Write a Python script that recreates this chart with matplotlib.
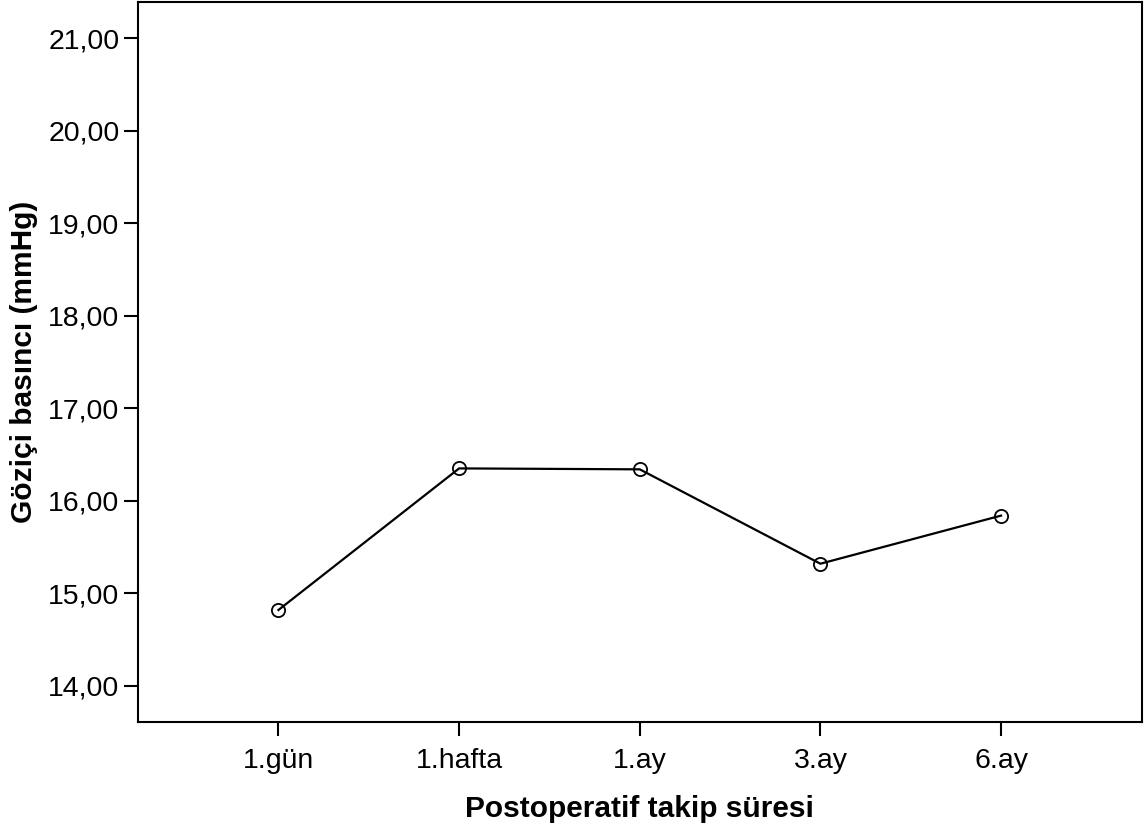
import matplotlib
matplotlib.use('Agg')
import matplotlib.pyplot as plt

plt.rcParams['font.family'] = ['Liberation Sans', 'DejaVu Sans']

# takip zamanlari ve ortalama goz ici basinci
donemler = ['1.gün', '1.hafta', '1.ay', '3.ay', '6.ay']
basinc = [14.82, 16.35, 16.34, 15.32, 15.84]
y_ticks = [14, 15, 16, 17, 18, 19, 20, 21]

fig = plt.figure(figsize=(11.47, 8.36), dpi=100)
ax = fig.add_axes([0.1199, 0.1364, 0.8757, 0.8612])

x = list(range(len(donemler)))
ax.plot(x, basinc, color='black', linewidth=1.6, marker='o', markersize=9.5,
        markerfacecolor='none', markeredgecolor='black', markeredgewidth=1.3)

ax.set_xlim(-0.78, len(donemler) - 1 + 0.78)
ax.set_ylim(13.61, 21.39)
ax.set_xticks(x)
ax.set_xticklabels(donemler)
ax.set_yticks(y_ticks)
ax.set_yticklabels([('%.2f' % v).replace('.', ',') for v in y_ticks])

ax.tick_params(axis='both', direction='out', length=10, width=1.5, labelsize=20.5, colors='black')
ax.tick_params(axis='y', pad=3)
ax.tick_params(axis='x', pad=9)
for s in ax.spines.values():
    s.set_linewidth(1.5)

ax.set_xlabel('Postoperatif takip süresi', fontsize=21.5, fontweight='bold', labelpad=15)
ax.set_ylabel('Gözi\u00e7i bas\u0131nc\u0131 (mmHg)', fontsize=21.5, fontweight='bold', labelpad=7)

fig.savefig('out.png', dpi=100)
